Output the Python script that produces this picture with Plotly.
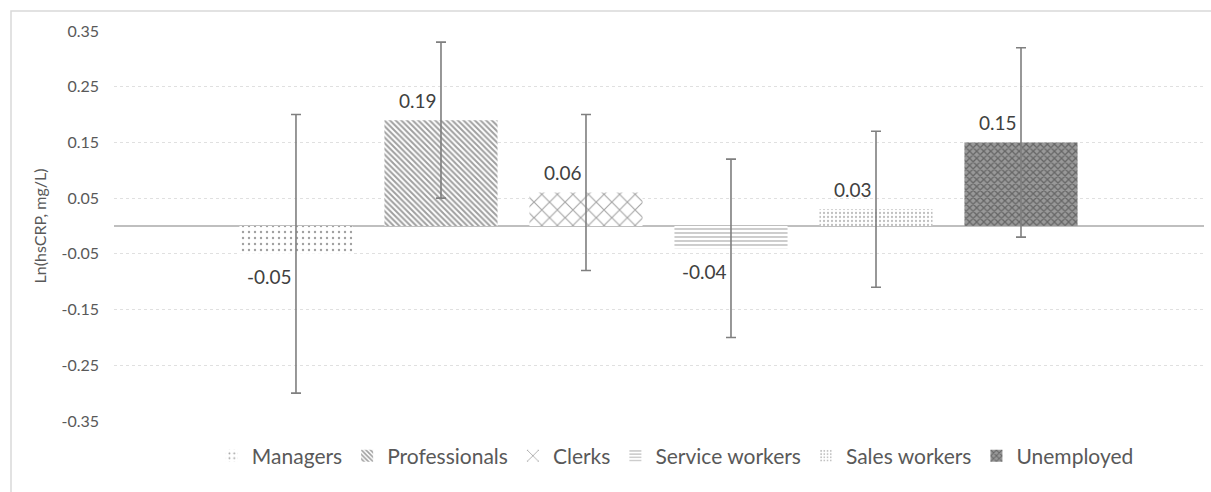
import plotly.graph_objects as go

# Occupational group means of log hsCRP with 95% confidence limits
groups = ["Managers", "Professionals", "Clerks", "Service workers", "Sales workers", "Unemployed"]
means = [-0.05, 0.19, 0.06, -0.04, 0.03, 0.15]
ci_low = [-0.30, 0.05, -0.08, -0.20, -0.11, -0.02]
ci_high = [0.20, 0.33, 0.20, 0.12, 0.17, 0.32]
y_ticks = [-0.35, -0.25, -0.15, -0.05, 0.05, 0.15, 0.25, 0.35]

# Fill pattern per group (shape, foreground, background, size, solidity)
patterns = {
    "Managers": dict(shape=".", fgcolor="#404040", bgcolor="white", size=6, solidity=0.12),
    "Professionals": dict(shape="\\", fgcolor="#404040", bgcolor="white", size=4, solidity=0.5),
    "Clerks": dict(shape="x", fgcolor="#4d4d4d", bgcolor="white", size=11, solidity=0.2),
    "Service workers": dict(shape="-", fgcolor="#595959", bgcolor="white", size=4, solidity=0.3),
    "Sales workers": dict(shape=".", fgcolor="#808080", bgcolor="white", size=4, solidity=0.25),
    "Unemployed": dict(shape="x", fgcolor="#333333", bgcolor="#999999", size=5, solidity=0.45),
}

FONT = "Lato"
TEXT = "#595959"


def fmt(v):
    # plain hyphen for negatives
    return f"{v:.2f}"


fig = go.Figure()
for g, m, lo, hi in zip(groups, means, ci_low, ci_high):
    fig.add_trace(go.Bar(
        x=[g], y=[m], name=g, width=0.78,
        marker=dict(color="white", line=dict(width=0), pattern=patterns[g]),
        error_y=dict(type="data", symmetric=False,
                     array=[hi - m], arrayminus=[m - lo],
                     color="#7f7f7f", thickness=1.6, width=5),
    ))
    fig.add_annotation(
        x=g, y=m, text=fmt(m), showarrow=False,
        xanchor="right", yanchor="middle",
        xshift=-2, yshift=20 if m >= 0 else -23,
        font=dict(family=FONT, size=19, color="#404040"),
    )

# Light frame around the chart area (top and left edges)
fig.add_shape(type="path", xref="paper", yref="paper",
              path="M -0.0945,-0.30 L -0.0945,1.0513 L 1.02,1.0513",
              line=dict(color="#d9d9d9", width=1.5))

fig.update_layout(
    width=1211, height=492,
    margin=dict(l=114, r=7, t=31, b=71),
    paper_bgcolor="white", plot_bgcolor="white",
    barmode="overlay",
    showlegend=True,
    legend=dict(orientation="h", x=0.515, xanchor="center", y=-0.09, yanchor="middle",
                font=dict(family=FONT, size=21, color=TEXT),
                itemwidth=30, traceorder="normal"),
    font=dict(family=FONT, color=TEXT),
)
fig.update_xaxes(type="category", range=[-1.255, 6.262], showticklabels=False,
                 showgrid=False, zeroline=False, showline=False, ticks="")
fig.update_yaxes(range=[-0.35, 0.35], tickvals=y_ticks,
                 ticktext=[fmt(v) for v in y_ticks],
                 tickfont=dict(family=FONT, size=16, color=TEXT),
                 showgrid=True, gridcolor="#e0e0e0", griddash="dot", gridwidth=1,
                 zeroline=True, zerolinecolor="#bfbfbf", zerolinewidth=1.5,
                 showline=False, ticks="", ticklabelstandoff=14,
                 title=dict(text="Ln(hsCRP, mg/L)", standoff=10,
                            font=dict(family=FONT, size=16, color=TEXT)))

fig.write_html("out.html")
